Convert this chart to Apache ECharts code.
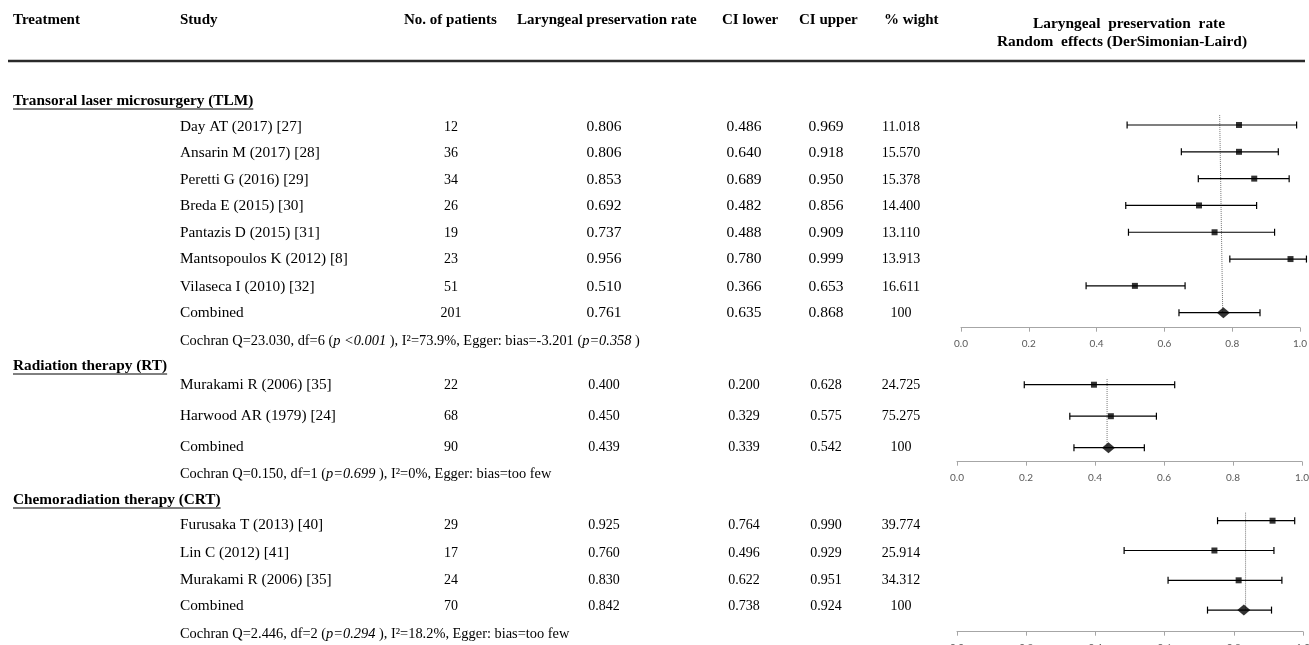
<!DOCTYPE html>
<html><head><meta charset="utf-8">
<script src="https://cdn.jsdelivr.net/npm/echarts@6/dist/echarts.min.js"></script>
<style>html,body{margin:0;padding:0;background:#fff;overflow:hidden}#c{width:1309px;height:645px}</style>
</head><body><div id="c"></div>
<script>
// ---------- DATA ----------
const headers = ['Treatment', 'Study', 'No. of patients', 'Laryngeal preservation rate', 'CI lower', 'CI upper', '% wight'];
const plotTitle = ['Laryngeal  preservation  rate', 'Random  effects (DerSimonian-Laird)'];
const groupNames = ['Transoral laser microsurgery (TLM)', 'Radiation therapy (RT)', 'Chemoradiation therapy (CRT)'];
const tickLabels = ['0.0', '0.2', '0.4', '0.6', '0.8', '1.0'];

// TLM table
const tlmStudies = ['Day AT (2017) [27]', 'Ansarin M (2017) [28]', 'Peretti G (2016) [29]', 'Breda E (2015) [30]', 'Pantazis D (2015) [31]', 'Mantsopoulos K (2012) [8]', 'Vilaseca I (2010) [32]', 'Combined'];
const tlmPatients = ['12', '36', '34', '26', '19', '23', '51', '201'];
const tlmRate = ['0.806', '0.806', '0.853', '0.692', '0.737', '0.956', '0.510', '0.761'];
const tlmLower = ['0.486', '0.640', '0.689', '0.482', '0.488', '0.780', '0.366', '0.635'];
const tlmUpper = ['0.969', '0.918', '0.950', '0.856', '0.909', '0.999', '0.653', '0.868'];
const tlmWeight = ['11.018', '15.570', '15.378', '14.400', '13.110', '13.913', '16.611', '100'];
const tlmStats = 'Cochran Q=23.030, df=6 ({i|p <0.001} ), I²=73.9%, Egger: bias=-3.201 ({i|p=0.358} )';
// TLM forest plot (as drawn)
const tlmEst = [0.820, 0.820, 0.865, 0.702, 0.748, 0.972, 0.513, 0.774];
const tlmLo  = [0.490, 0.650, 0.700, 0.486, 0.494, 0.793, 0.369, 0.643];
const tlmHi  = [0.990, 0.936, 0.968, 0.872, 0.925, 1.019, 0.661, 0.882];
const tlmRef = [0.763, 0.772];

// RT table
const rtStudies = ['Murakami R (2006) [35]', 'Harwood AR (1979) [24]', 'Combined'];
const rtPatients = ['22', '68', '90'];
const rtRate = ['0.400', '0.450', '0.439'];
const rtLower = ['0.200', '0.329', '0.339'];
const rtUpper = ['0.628', '0.575', '0.542'];
const rtWeight = ['24.725', '75.275', '100'];
const rtStats = 'Cochran Q=0.150, df=1 ({i|p=0.699} ), I²=0%, Egger: bias=too few';
// RT forest plot
const rtEst = [0.397, 0.446, 0.439];
const rtLo  = [0.195, 0.327, 0.339];
const rtHi  = [0.631, 0.578, 0.543];
const rtRef = [0.435, 0.435];

// CRT table
const crtStudies = ['Furusaka T (2013) [40]', 'Lin C (2012) [41]', 'Murakami R (2006) [35]', 'Combined'];
const crtPatients = ['29', '17', '24', '70'];
const crtRate = ['0.925', '0.760', '0.830', '0.842'];
const crtLower = ['0.764', '0.496', '0.622', '0.738'];
const crtUpper = ['0.990', '0.929', '0.951', '0.924'];
const crtWeight = ['39.774', '25.914', '34.312', '100'];
const crtStats = 'Cochran Q=2.446, df=2 ({i|p=0.294} ), I²=18.2%, Egger: bias=too few';
// CRT forest plot
const crtEst = [0.912, 0.744, 0.814, 0.829];
const crtLo  = [0.753, 0.483, 0.610, 0.724];
const crtHi  = [0.976, 0.916, 0.939, 0.909];
const crtRef = [0.834, 0.834];

// ---------- LAYOUT ----------
const SERIF = '"Liberation Serif","Times New Roman",serif';
const groups = [
  { name: groupNames[0], studies: tlmStudies, n: tlmPatients, rate: tlmRate, lo: tlmLower, hi: tlmUpper, w: tlmWeight, stats: tlmStats,
    est: tlmEst, plo: tlmLo, phi: tlmHi, ref: tlmRef,
    headY: 101, rowY: [127, 153, 180, 206, 233, 259, 287, 313], statY: 341, numSize: 15.5,
    grid: { left: 961, width: 339, top: 111.6, height: 216.1 }, ymax: 7.56, refFrom: -0.37 },
  { name: groupNames[1], studies: rtStudies, n: rtPatients, rate: rtRate, lo: rtLower, hi: rtUpper, w: rtWeight, stats: rtStats,
    est: rtEst, plo: rtLo, phi: rtHi, ref: rtRef,
    headY: 366, rowY: [385, 416, 447], statY: 474, numSize: 14,
    grid: { left: 957, width: 345, top: 368.95, height: 92.75 }, ymax: 2.444, refFrom: -0.18 },
  { name: groupNames[2], studies: crtStudies, n: crtPatients, rate: crtRate, lo: crtLower, hi: crtUpper, w: crtWeight, stats: crtStats,
    est: crtEst, plo: crtLo, phi: crtHi, ref: crtRef,
    headY: 500, rowY: [525, 553, 580, 606], statY: 634, numSize: 14,
    grid: { left: 957, width: 346, top: 505.8, height: 125.9 }, ymax: 3.725, refFrom: -0.27 }
];

const measureCtx = document.createElement('canvas').getContext('2d');
function textWidth(str, font) { measureCtx.font = font; return measureCtx.measureText(str).width; }

const graphic = [];
function txt(x, y, s, opt) {
  opt = opt || {};
  graphic.push({
    type: 'text', x: x, y: y, silent: true,
    style: Object.assign({
      text: s, fill: '#000', font: (opt.bold ? 'bold ' : '') + (opt.size || 14) + 'px ' + SERIF,
      textAlign: opt.align || 'left', textVerticalAlign: 'middle'
    }, opt.rich ? { rich: opt.rich } : {})
  });
}

// Header
const headX = [13, 180, 404, 517, 722, 799, 884];
headers.forEach((h, i) => txt(headX[i], 20, h, { bold: true, size: 15 }));
txt(1129, 24, plotTitle[0], { bold: true, size: 15.4, align: 'center' });
txt(1122, 42, plotTitle[1], { bold: true, size: 15.4, align: 'center' });
graphic.push({ type: 'line', silent: true, shape: { x1: 8, y1: 61, x2: 1305, y2: 61 }, style: { stroke: '#2a2a2a', lineWidth: 2.5 } });

const colX = { n: 451, rate: 604, lo: 744, hi: 826, w: 901 };
groups.forEach(g => {
  const hs = 15.3;
  const hf = 'bold ' + hs + 'px ' + SERIF;
  txt(13, g.headY, g.name, { bold: true, size: hs });
  const wdt = textWidth(g.name, hf);
  graphic.push({ type: 'line', silent: true, shape: { x1: 13, y1: g.headY + 8, x2: 13 + wdt, y2: g.headY + 8 }, style: { stroke: '#000', lineWidth: 1 } });
  g.studies.forEach((s, i) => {
    const y = g.rowY[i];
    txt(180, y, s, { size: 15.3 });
    txt(colX.n, y, g.n[i], { size: 14, align: 'center' });
    txt(colX.rate, y, g.rate[i], { size: g.numSize, align: 'center' });
    txt(colX.lo, y, g.lo[i], { size: g.numSize, align: 'center' });
    txt(colX.hi, y, g.hi[i], { size: g.numSize, align: 'center' });
    txt(colX.w, y, g.w[i], { size: 14, align: 'center' });
  });
  txt(180, g.statY, g.stats, { size: 14.4, rich: { i: { fontStyle: 'italic', fontSize: 14.4, fontFamily: SERIF } } });
});

// ---------- CHART ----------
function ciItem(params, api) {
  const y = api.value(2);
  const a = api.coord([api.value(0), y]);
  const b = api.coord([api.value(1), y]);
  const h = 3.5;
  const st = { stroke: '#000', lineWidth: 1.2 };
  return {
    type: 'group', children: [
      { type: 'line', shape: { x1: a[0], y1: a[1], x2: b[0], y2: b[1] }, style: st },
      { type: 'line', shape: { x1: a[0], y1: a[1] - h, x2: a[0], y2: a[1] + h }, style: st },
      { type: 'line', shape: { x1: b[0], y1: b[1] - h, x2: b[0], y2: b[1] + h }, style: st }
    ]
  };
}

const grids = [], xAxes = [], yAxes = [], series = [];
groups.forEach((g, k) => {
  grids.push(Object.assign({ containLabel: false, outerBoundsMode: 'none' }, g.grid));
  xAxes.push({
    type: 'value', gridIndex: k, min: 0, max: 1, interval: 0.2, position: 'bottom',
    axisLine: { show: true, onZero: false, lineStyle: { color: '#a6a6a6', width: 1 } },
    axisTick: { show: true, length: 4, lineStyle: { color: '#a6a6a6' } },
    splitLine: { show: false },
    axisLabel: { formatter: v => tickLabels[Math.round(v / 0.2)], color: '#595959', fontFamily: 'Lato', fontSize: 10, margin: 11, showMaxLabel: true, showMinLabel: true }
  });
  yAxes.push({ type: 'value', gridIndex: k, inverse: true, min: -0.5, max: g.ymax, show: false });
  const last = g.est.length - 1;
  series.push({
    type: 'line', xAxisIndex: k, yAxisIndex: k, silent: true, symbol: 'none',
    data: [[g.ref[0], g.refFrom], [g.ref[1], last]],
    lineStyle: { type: 'dotted', color: '#777', width: 1 }, z: 1
  });
  series.push({
    type: 'custom', xAxisIndex: k, yAxisIndex: k, silent: true, clip: false,
    renderItem: ciItem, encode: { x: [0, 1], y: 2 },
    data: g.plo.map((v, i) => [v, g.phi[i], i]), z: 2
  });
  series.push({
    type: 'scatter', xAxisIndex: k, yAxisIndex: k, silent: true,
    data: g.est.map((v, i) => i === last
      ? { value: [v, i], symbol: 'diamond', symbolSize: [13, 11] }
      : { value: [v, i], symbol: 'rect', symbolSize: 6 }),
    itemStyle: { color: '#000' }, z: 3
  });
});

const chart = echarts.init(document.getElementById('c'), null, { renderer: 'canvas' });
chart.setOption({
  backgroundColor: '#fff', animation: false,
  grid: grids, xAxis: xAxes, yAxis: yAxes, series: series, graphic: graphic
});
</script></body></html>
